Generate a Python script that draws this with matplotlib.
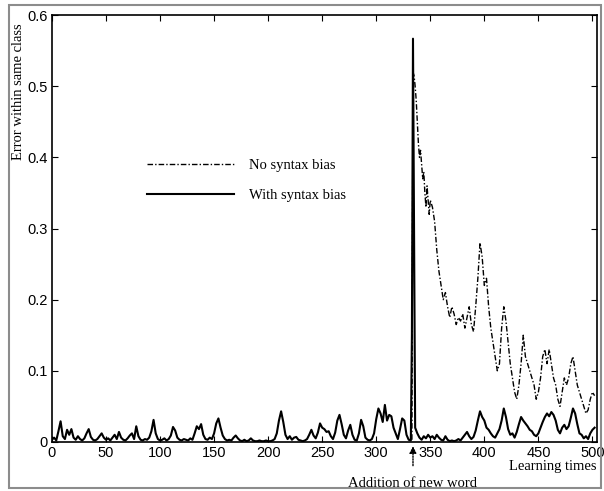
import matplotlib
matplotlib.use("Agg")
import matplotlib.pyplot as plt
from matplotlib.patches import Rectangle

# learning step where the new word is added
new_word_at = 334

# with syntax bias
bias_x = list(range(0, 333, 2)) + [333, 334, 335] + list(range(336, 503, 2))
bias_y = [
    0.003, 0.006, 0.002, 0.015, 0.029, 0.008, 0.004, 0.017, 0.010, 0.018,  # 0-18
    0.006, 0.003, 0.008, 0.004, 0.002, 0.005, 0.012, 0.018, 0.007, 0.003,  # 20-38
    0.002, 0.004, 0.008, 0.012, 0.006, 0.003, 0.005, 0.002, 0.006, 0.010,  # 40-58
    0.004, 0.014, 0.006, 0.003, 0.002, 0.005, 0.009, 0.012, 0.004, 0.022,  # 60-78
    0.008, 0.003, 0.002, 0.004, 0.003, 0.006, 0.015, 0.031, 0.012, 0.004,  # 80-98
    0.002, 0.003, 0.005, 0.002, 0.004, 0.009, 0.021, 0.016, 0.006, 0.003,  # 100-118
    0.002, 0.004, 0.003, 0.002, 0.005, 0.003, 0.012, 0.022, 0.018, 0.025,  # 120-138
    0.010, 0.004, 0.003, 0.006, 0.004, 0.012, 0.026, 0.033, 0.020, 0.009,  # 140-158
    0.004, 0.002, 0.003, 0.002, 0.006, 0.009, 0.005, 0.002, 0.001, 0.003,  # 160-178
    0.001, 0.002, 0.005, 0.002, 0.001, 0.001, 0.002, 0.001, 0.001, 0.002,  # 180-198
    0.001, 0.001, 0.002, 0.004, 0.012, 0.030, 0.043, 0.028, 0.010, 0.004,  # 200-218
    0.008, 0.003, 0.006, 0.007, 0.003, 0.002, 0.001, 0.002, 0.004, 0.010,  # 220-238
    0.017, 0.009, 0.005, 0.013, 0.026, 0.020, 0.018, 0.014, 0.015, 0.008,  # 240-258
    0.004, 0.013, 0.030, 0.038, 0.025, 0.010, 0.005, 0.016, 0.024, 0.010,  # 260-278
    0.003, 0.002, 0.012, 0.031, 0.022, 0.006, 0.003, 0.002, 0.004, 0.012,  # 280-298
    0.032, 0.047, 0.040, 0.028, 0.052, 0.030, 0.038, 0.036, 0.020, 0.012,  # 300-318
    0.004, 0.018, 0.033, 0.030, 0.010, 0.003, 0.002,                       # 320-332
    0.150, 0.567, 0.300,                                                   # 333-335
    0.020, 0.012, 0.006, 0.003, 0.008, 0.005, 0.010, 0.006, 0.008, 0.004,  # 336-354
    0.010, 0.006, 0.003, 0.002, 0.008, 0.003, 0.001, 0.002, 0.001, 0.002,  # 356-374
    0.004, 0.002, 0.006, 0.010, 0.014, 0.008, 0.004, 0.007, 0.016, 0.030,  # 376-394
    0.043, 0.035, 0.030, 0.020, 0.017, 0.012, 0.008, 0.006, 0.012, 0.018,  # 396-414
    0.030, 0.047, 0.035, 0.018, 0.010, 0.012, 0.006, 0.014, 0.025, 0.035,  # 416-434
    0.030, 0.026, 0.022, 0.017, 0.015, 0.010, 0.008, 0.012, 0.020, 0.028,  # 436-454
    0.035, 0.040, 0.036, 0.042, 0.038, 0.030, 0.017, 0.012, 0.020, 0.024,  # 456-474
    0.018, 0.022, 0.034, 0.047, 0.040, 0.025, 0.012, 0.010, 0.005, 0.008,  # 476-494
    0.004, 0.012, 0.017, 0.020,                                            # 496-502
]

# no syntax bias (after the new word)
nobias_x = list(range(333, 351)) + list(range(352, 503, 2))
nobias_y = [
    0.003, 0.520, 0.515, 0.500, 0.480, 0.450, 0.420, 0.400, 0.410, 0.390,  # 333-342
    0.370, 0.380, 0.350, 0.330, 0.360, 0.340, 0.320, 0.340,                # 343-350
    0.330, 0.310, 0.270, 0.240, 0.220, 0.200, 0.210, 0.190, 0.175, 0.190,  # 352-370
    0.180, 0.165, 0.175, 0.170, 0.180, 0.160, 0.175, 0.190, 0.165, 0.155,  # 372-390
    0.190, 0.230, 0.280, 0.260, 0.220, 0.230, 0.190, 0.160, 0.140, 0.120,  # 392-410
    0.100, 0.110, 0.160, 0.190, 0.170, 0.140, 0.110, 0.090, 0.070, 0.060,  # 412-430
    0.080, 0.110, 0.150, 0.120, 0.110, 0.100, 0.090, 0.080, 0.060, 0.070,  # 432-450
    0.090, 0.120, 0.130, 0.110, 0.130, 0.110, 0.090, 0.080, 0.060, 0.050,  # 452-470
    0.070, 0.090, 0.080, 0.090, 0.110, 0.120, 0.100, 0.080, 0.070, 0.060,  # 472-490
    0.050, 0.040, 0.045, 0.060, 0.070, 0.065,                              # 492-502
]

serif = "Liberation Serif"
sans = "Liberation Sans"

fig = plt.figure(figsize=(6.04, 4.91), dpi=100)
ax = fig.add_axes([0.086, 0.1, 0.902, 0.869])

ax.plot(nobias_x, nobias_y, color="black", lw=1.0, dashes=(4, 1.5, 1, 1.5),
        label="No syntax bias")
ax.plot(bias_x, bias_y, color="black", lw=1.5, label="With syntax bias")

ax.set_xlim(0, 504)
ax.set_ylim(0, 0.6)
ax.set_xticks(range(0, 501, 50))
ax.set_yticks([0, 0.1, 0.2, 0.3, 0.4, 0.5, 0.6])
ax.set_yticklabels(["0", "0.1", "0.2", "0.3", "0.4", "0.5", "0.6"])
ax.tick_params(direction="in", length=4, top=True, right=True, labelsize=10.5, pad=3)
for lab in ax.get_xticklabels() + ax.get_yticklabels():
    lab.set_fontfamily(sans)
for sp in ax.spines.values():
    sp.set_linestyle((0, (1, 1)))
    sp.set_linewidth(1.2)

ax.set_ylabel("Error within same class", fontfamily=serif, fontsize=10.5)
ax.yaxis.set_label_coords(-0.05, 0.82)
ax.set_xlabel("Learning times", fontfamily=serif, fontsize=10.5, loc="right", labelpad=0)

ax.annotate("Addition of new word", xy=(new_word_at, -0.01),
            xycoords=("data", "axes fraction"),
            xytext=(new_word_at, -0.097), textcoords=("data", "axes fraction"),
            ha="center", va="center", fontfamily=serif, fontsize=10.5,
            arrowprops=dict(arrowstyle="-|>", color="black", lw=1.0,
                            linestyle=(0, (1, 1)), mutation_scale=10,
                            shrinkA=6, shrinkB=0))

leg = ax.legend(loc="upper left", bbox_to_anchor=(0.15, 0.695), frameon=False,
                handlelength=6.0, handletextpad=1.0, labelspacing=1.2,
                prop={"family": serif, "size": 10.5})

fig.add_artist(Rectangle((0.015, 0.006), 0.98, 0.984, transform=fig.transFigure,
                         fill=False, edgecolor="#8c8c8c", lw=1.5))

fig.savefig("out.png", dpi=100)
